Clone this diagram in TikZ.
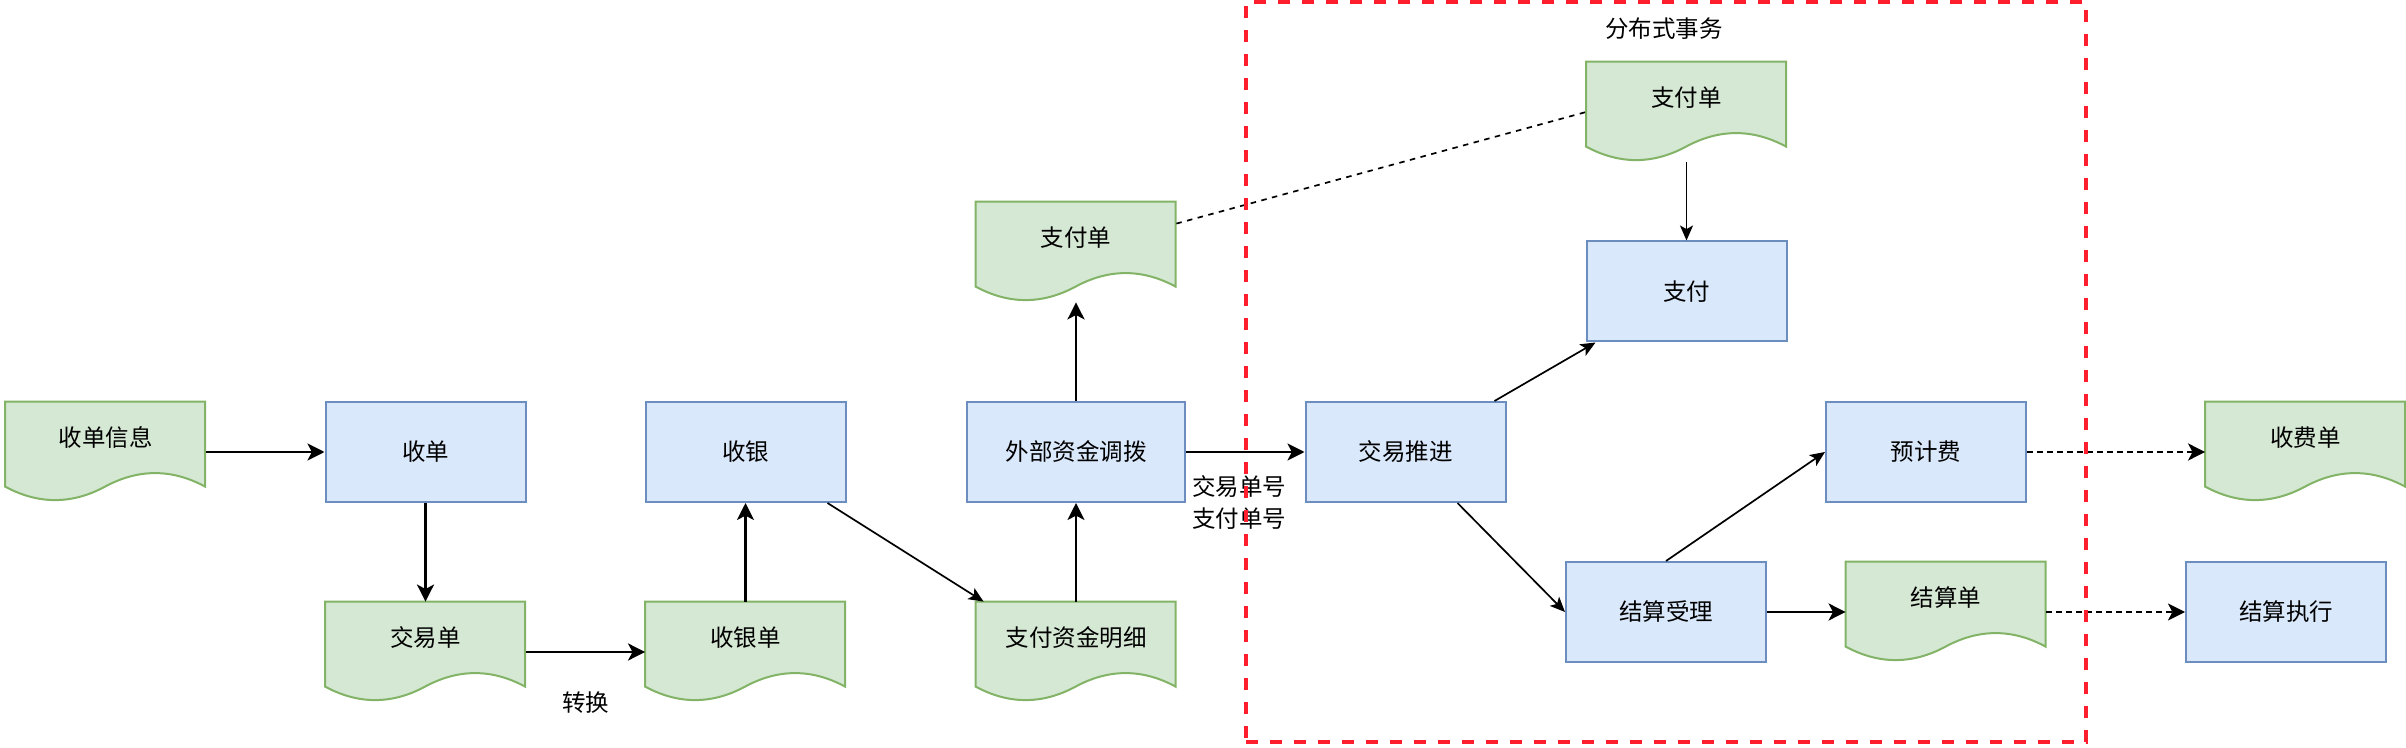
\documentclass[tikz,border=0pt]{standalone}
\usepackage{fontspec}
\setmainfont{Noto Sans CJK SC}
\usetikzlibrary{arrows.meta,calc}
\definecolor{docfill}{HTML}{D5E8D4}
\definecolor{docline}{HTML}{82B366}
\definecolor{boxfill}{HTML}{DAE8FC}
\definecolor{boxline}{HTML}{6C8EBF}
\definecolor{grpred}{RGB}{255,30,45}
\tikzset{
  every node/.style={font=\fontsize{11.75pt}{16pt}\selectfont, inner sep=0pt},
  procbox/.style={draw=boxline, fill=boxfill, line width=1pt, minimum width=100pt, minimum height=50pt},
  docnode/.style={minimum width=100pt, minimum height=50pt},
  docpaint/.style={draw=docline, fill=docfill, line width=1pt},
  lbl/.style={align=center},
  thickarrow/.style={line width=1.35pt, -{Stealth[length=8.5pt,width=8.5pt,inset=2.2pt]}},
  thinarrow/.style={line width=0.85pt, -{Stealth[length=7.5pt,width=6.5pt,inset=1.8pt]}},
  dotarrow/.style={thickarrow, dash pattern=on 2.75pt off 2.25pt},
  dashline/.style={line width=0.85pt, dash pattern=on 2.75pt off 2.75pt},
  grpbox/.style={draw=grpred, line width=1.65pt, dash pattern=on 6pt off 6pt, minimum width=420pt, minimum height=370pt},
}
\newcommand\mkdoc[3]{%
  \node[docnode] (#1) at (#2) {};
  \path[docpaint, shift={(#1.north west)}] (0,0) -- (200,0) -- (200,85)
    .. controls (166.67,67) and (133.33,67) .. (100,85)
    .. controls (66.67,103) and (33.33,103) .. (0,85) -- cycle;
  \node[lbl] (#1-t) at ([yshift=7.25pt]#1.center) {#3};
}
\begin{document}
\begin{tikzpicture}[x=0.5pt, y=-0.5pt]
\useasboundingbox (0,0) rectangle (2406,748);
% documents
\mkdoc{info}{105.5,452}{收单信息}
\mkdoc{jyd}{425.5,652}{交易单}
\mkdoc{syd}{745.5,652}{收银单}
\mkdoc{pay1}{1076,252}{支付单}
\mkdoc{zfzj}{1076,652}{支付资金明细}
\mkdoc{pay2}{1686.5,112}{支付单}
\mkdoc{jsd}{1946,612}{结算单}
\mkdoc{sfd}{2305.5,452}{收费单}
% process boxes
\node[procbox] (shoudan) at (425.5,452) {收单};
\node[procbox] (sy) at (745.5,452) {收银};
\node[procbox, minimum width=109pt] (wb) at (1076,452) {外部资金调拨};
\node[procbox] (jytj) at (1405.5,452) {交易推进};
\node[procbox] (zf) at (1686.5,291.5) {支付};
\node[procbox] (yjf) at (1926,452) {预计费};
\node[procbox] (jssl) at (1666,612) {结算受理};
\node[procbox] (jszx) at (2286,612) {结算执行};
% connectors
\draw[thickarrow] (info.east) -- (shoudan.west);
\draw[thickarrow] (shoudan.south) -- (jyd.north);
\draw[thickarrow] (jyd.east) -- node[lbl, yshift=-25.5pt] (zh) {转换} (syd.west);
\draw[thickarrow] (syd.north) -- (sy.south);
\draw[thinarrow] ([xshift=-9.5pt]sy.south east) -- ([xshift=4pt]zfzj.north west);
\draw[thickarrow] (zfzj.north) -- (wb.south);
\draw[thickarrow] (wb.north) -- (pay1.south);
\draw[thickarrow] (wb.east) -- node[lbl, xshift=-3pt, yshift=-25pt] (hao) {交易单号\\支付单号} (jytj.west);
\draw[thinarrow] (pay2.south) -- (zf.north);
\draw[thinarrow] ([xshift=-6pt]jytj.north east) -- ([xshift=5pt]zf.south west);
\draw[thinarrow] ([xshift=-24.5pt]jytj.south east) -- (jssl.west);
\draw[thinarrow] (jssl.north) -- (yjf.west);
\draw[thickarrow] (jssl.east) -- (jsd.west);
\draw[dotarrow] (yjf.east) -- (sfd.west);
\draw[dotarrow] (jsd.east) -- (jszx.west);
\draw[dashline] ([yshift=-11pt]pay1.north east) -- (pay2.west);
% group
\node[grpbox] (grp) at (1666,372) {};
\node[lbl] (grp-t) at (1664,29) {分布式事务};
\end{tikzpicture}
\end{document}
